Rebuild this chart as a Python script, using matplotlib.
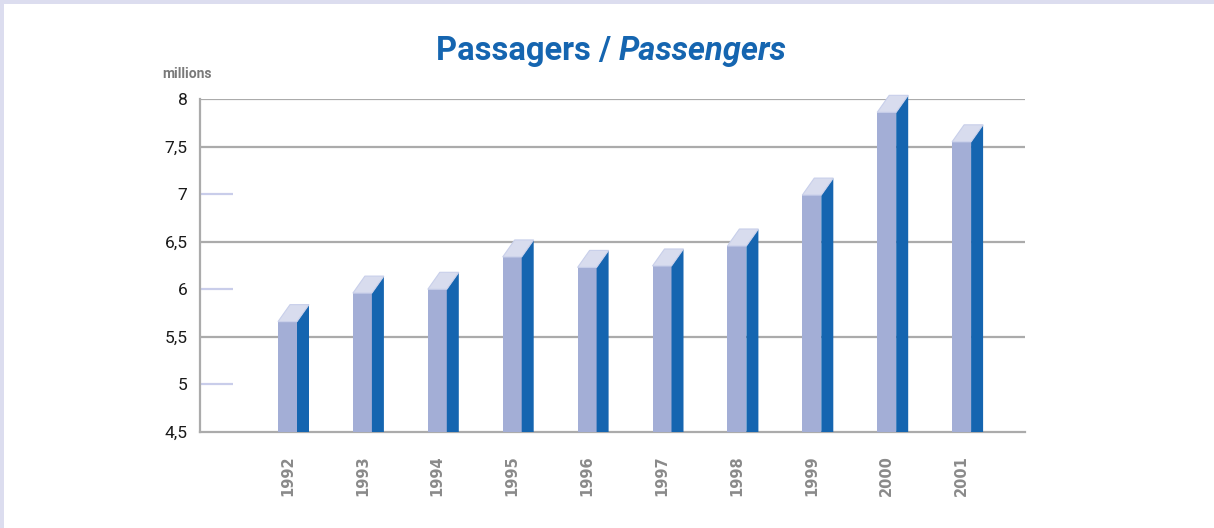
import matplotlib
matplotlib.use("Agg")
import matplotlib.pyplot as plt
from matplotlib.patches import Rectangle

years = ["1992", "1993", "1994", "1995", "1996", "1997", "1998", "1999", "2000", "2001"]
passengers = [5.66, 5.96, 6.00, 6.34, 6.23, 6.245, 6.455, 6.99, 7.86, 7.55]
ytick_vals = [4.5, 5, 5.5, 6, 6.5, 7, 7.5, 8]
ytick_labels = ["4,5", "5", "5,5", "6", "6,5", "7", "7,5", "8"]

W, H = 1214, 528
fig = plt.figure(figsize=(W / 100, H / 100), dpi=100)
fig.patch.set_facecolor("white")

# frame
fig.add_artist(Rectangle((0, 1 - 4 / H), 1, 4 / H, transform=fig.transFigure,
                         color="#DCDDEF", lw=0))
fig.add_artist(Rectangle((0, 0), 4 / W, 1, transform=fig.transFigure,
                         color="#DCDDEF", lw=0))

ax = fig.add_axes([200 / W, 1 - 432 / H, 825 / W, 333 / H])
px_x = 74.9
px_y = 333 / 3.5
xmin = (200 - 287.5) / px_x
xmax = (1025 - 287.5) / px_x
ax.set_xlim(xmin, xmax)
ax.set_ylim(4.5, 8)

grey = "#ABABAB"
for v in [5.5, 6.5, 7.5, 8]:
    ax.axhline(v, color=grey, lw=1.6, zorder=1)
ax.hlines([5, 6, 7], xmin, xmin + 33 / px_x, color="#C9CDEA", lw=1.6, zorder=1)

for s in ["top", "right"]:
    ax.spines[s].set_visible(False)
for s in ["left", "bottom"]:
    ax.spines[s].set_color(grey)
    ax.spines[s].set_linewidth(1.6)

wf = 19 / px_x
ws = 12 / px_x
dy = 17 / px_y
front = "#A3AED6"
side = "#1565B0"
top = "#D8DCEE"
xs = list(range(len(years)))
ax.bar(xs, [v - 4.5 for v in passengers], bottom=4.5, width=wf, color=front,
       lw=0, zorder=3)
for x, v in zip(xs, passengers):
    r = x + wf / 2
    l = x - wf / 2
    ax.fill([r, r + ws, r + ws, r], [4.5, 4.5, v + dy, v], color=side, lw=0,
            zorder=3, clip_on=False)
    ax.fill([l, r, r + ws, l + ws], [v, v, v + dy, v + dy], color=top,
            lw=0.8, ec="#C8CFEA", zorder=3, clip_on=False)

ax.set_xticks(xs)
ax.set_xticklabels(years, rotation=90, fontsize=10.5, fontweight="bold",
                   color="#8A8A8A", family="DejaVu Sans")
ax.tick_params(axis="x", length=0, pad=17)
ax.set_yticks(ytick_vals)
ax.set_yticklabels(ytick_labels, fontsize=12.5, family="Roboto", color="#1A1A1A")
ax.tick_params(axis="y", length=0, pad=9)

fig.text(162 / W, 1 - 74 / H, "millions", fontsize=10, fontweight="bold",
         color="#7A7A7A", va="center", ha="left", family="Roboto")

tx = 619 / W
fig.text(tx, 1 - 51 / H, "Passagers / ", fontsize=23.5, fontweight="bold",
         color="#1565B0", ha="right", va="center", family="Roboto")
fig.text(tx, 1 - 51 / H, "Passengers", fontsize=23.5, fontweight="bold",
         style="italic", color="#1565B0", ha="left", va="center", family="Roboto")

fig.savefig("out.png", dpi=100, facecolor="white")
